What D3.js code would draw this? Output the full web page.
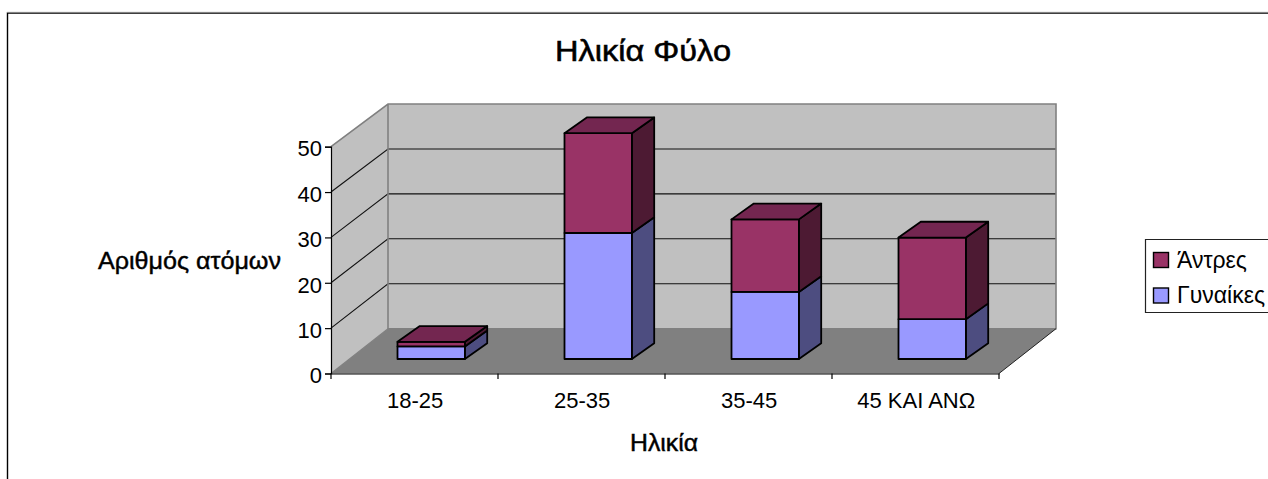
<!DOCTYPE html>
<html lang="el">
<head>
<meta charset="utf-8">
<title>Ηλικία Φύλο</title>
<script src="https://cdn.jsdelivr.net/npm/d3@7"></script>
<style>
  html, body { margin: 0; padding: 0; background: #fff; }
  svg { display: block; }
  text { font-family: "Liberation Sans", Arial, sans-serif; fill: #000; }
</style>
</head>
<body>
<svg id="chart" width="1268" height="479"></svg>
<script>
const categories = ["18-25", "25-35", "35-45", "45 ΚΑΙ ΑΝΩ"];
const women = [3, 28, 15, 9];
const men = [1, 22, 16, 18];
const yTicks = [0, 10, 20, 30, 40, 50];
const seriesNames = ["Άντρες", "Γυναίκες"];
const titleText = "Ηλικία Φύλο";
const yTitleText = "Αριθμός ατόμων";
const xTitleText = "Ηλικία";

const wallFill = "#c0c0c0", floorFill = "#808080", edgeGrey = "#808080";
const menColors = { front: "#993366", side: "#4d1a33", top: "#732650" };
const womenColors = { front: "#9999ff", side: "#4d4d80", top: "#732650" };

const svg = d3.select("#chart");

// Front plane of the 3D box, and the back wall behind it
const x = d3.scaleBand().domain(categories).range([331, 999]);
const y = d3.scaleLinear().domain([0, 50]).range([373.5, 146.7]);
const yBack = d3.scaleLinear().domain([0, 50]).range([328.7, 104]);

// Oblique projection offsets: full depth of the box, depth of a column,
// and where a column sits relative to the front plane
const wallDx = 57;
const barDx = 22.3, barDy = -15.8;
const barShiftX = 16.7, barShiftY = -13.5;
const barWidth = 67.4;
const poly = pts => pts.map(p => p.join(",")).join(" ");

const x0 = x.range()[0], x1 = x.range()[1];
const xb0 = x0 + wallDx, xb1 = x1 + wallDx;
const yBase = y(0), yTop = y(50);

// Outer chart frame, open at the right and bottom
svg.append("path").attr("d", "M7.5,479V13H1268")
  .attr("fill", "none").attr("stroke", "#000").attr("stroke-width", 1.4);
svg.append("line").attr("x1", 7).attr("x2", 1268).attr("y1", 12.3).attr("y2", 12.3)
  .attr("stroke", "#aaa").attr("stroke-width", 0.8);

// Walls and floor
svg.append("polygon").attr("fill", wallFill)
  .attr("points", poly([[xb0, yBack(50)], [xb1, yBack(50)], [xb1, yBack(0)], [xb0, yBack(0)]]));
svg.append("polygon").attr("fill", wallFill)
  .attr("points", poly([[x0, yTop], [xb0, yBack(50)], [xb0, yBack(0)], [x0, yBase]]));
svg.append("polygon").attr("fill", floorFill)
  .attr("points", poly([[x0, yBase], [xb0, yBack(0)], [xb1, yBack(0)], [x1, yBase]]));

// Gridlines across both walls
const grid = svg.append("g").attr("fill", "none").attr("stroke", "#111").attr("stroke-width", 1.1);
yTicks.filter(t => t > 0 && t < 50).forEach(t => {
  grid.append("polyline").attr("points", poly([[x0, y(t)], [xb0, yBack(t)], [xb1, yBack(t)]]));
});

// Wall outlines
svg.append("path").attr("fill", "none").attr("stroke", edgeGrey).attr("stroke-width", 1.6)
  .attr("d", `M${x0},${yTop}L${xb0},${yBack(50)}H${xb1}V${yBack(0)}H${xb0}V${yBack(50)}`);
svg.append("line").attr("stroke", edgeGrey).attr("stroke-width", 1.2)
  .attr("x1", x0).attr("y1", yBase).attr("x2", xb0).attr("y2", yBack(0));
svg.append("line").attr("stroke", "#222").attr("stroke-width", 1)
  .attr("x1", x1).attr("y1", yBase).attr("x2", xb1).attr("y2", yBack(0));

// Stacked columns
function drawBlock(g, left, yLow, yHigh, colors, withTop) {
  const right = left + barWidth;
  const face = g.append("g").attr("stroke", "#000").attr("stroke-width", 1.8).attr("stroke-linejoin", "round");
  face.append("polygon").attr("fill", colors.side)
    .attr("points", poly([[right, yLow], [right + barDx, yLow + barDy], [right + barDx, yHigh + barDy], [right, yHigh]]));
  face.append("polygon").attr("fill", colors.front)
    .attr("points", poly([[left, yLow], [right, yLow], [right, yHigh], [left, yHigh]]));
  if (withTop) {
    face.append("polygon").attr("fill", colors.top)
      .attr("points", poly([[left, yHigh], [right, yHigh], [right + barDx, yHigh + barDy], [left + barDx, yHigh + barDy]]));
  }
}

const columns = svg.append("g");
categories.forEach((c, i) => {
  const cx = x(c) + x.bandwidth() / 2 + barShiftX;
  const left = cx - barWidth / 2;
  const g = columns.append("g");
  const floorY = y(0) + barShiftY - 1;
  drawBlock(g, left, floorY, y(women[i]) + barShiftY, womenColors, false);
  drawBlock(g, left, y(women[i]) + barShiftY, y(women[i] + men[i]) + barShiftY, menColors, true);
});

// Axes on the front plane
const axisLeft = d3.axisLeft(y).tickValues(yTicks).tickSize(6).tickPadding(3).tickFormat(d3.format("d"));
const axisBottom = d3.axisBottom(x).tickSize(0).tickFormat("");
const gy = svg.append("g").attr("transform", `translate(${x0},0)`).call(axisLeft);
gy.selectAll("text").attr("font-size", 22).style("font-family", "inherit").attr("dy", "0.42em");
gy.selectAll("path,line").attr("stroke", "#000").attr("stroke-width", 1.2);

const gx = svg.append("g").attr("transform", `translate(0,${yBase})`).call(axisBottom);
gx.selectAll("path").attr("stroke", "#000").attr("stroke-width", 1.2);
gx.selectAll(".tick").remove();
const boundaries = categories.map(c => x(c)).concat([x1]);
gx.selectAll("line.sep").data(boundaries).join("line").attr("class", "sep")
  .attr("x1", d => d).attr("x2", d => d).attr("y1", 0).attr("y2", 5.5)
  .attr("stroke", "#000").attr("stroke-width", 1.2);

// Category labels
svg.append("g").selectAll("text").data(categories).join("text")
  .attr("x", d => x(d) + x.bandwidth() / 2 + 0.7)
  .attr("y", 407.5)
  .attr("text-anchor", "middle")
  .attr("font-size", 22)
  .text(d => d);

// Titles, slightly heavier than the tick labels
function addTitle(text, cx, baseline, size, width, weight) {
  svg.append("text").attr("x", cx).attr("y", baseline).attr("text-anchor", "middle")
    .attr("font-size", size)
    .attr("textLength", width).attr("lengthAdjust", "spacingAndGlyphs")
    .attr("stroke", "#000").attr("stroke-width", weight)
    .text(text);
}
addTitle(titleText, 643, 61, 29, 176, 0.55);
addTitle(yTitleText, 189.5, 269, 24, 183, 0.45);
addTitle(xTitleText, 664, 451, 24, 68, 0.45);

// Legend box, running off the right edge
const legend = svg.append("g");
legend.append("path").attr("d", "M1268,239.5H1145.5V312.5H1268")
  .attr("fill", "#fff").attr("stroke", "#222").attr("stroke-width", 1.2);
const legendFronts = [menColors.front, womenColors.front];
const legendY = d3.scalePoint().domain(seriesNames).range([260, 295.5]);
seriesNames.forEach((name, i) => {
  legend.append("rect").attr("x", 1153.5).attr("y", legendY(name) - 7.5)
    .attr("width", 15).attr("height", 15)
    .attr("fill", legendFronts[i]).attr("stroke", "#000").attr("stroke-width", 1.4);
  legend.append("text").attr("x", 1177).attr("y", legendY(name) + 7.5)
    .attr("font-size", 23).text(name);
});
</script>
</body>
</html>
